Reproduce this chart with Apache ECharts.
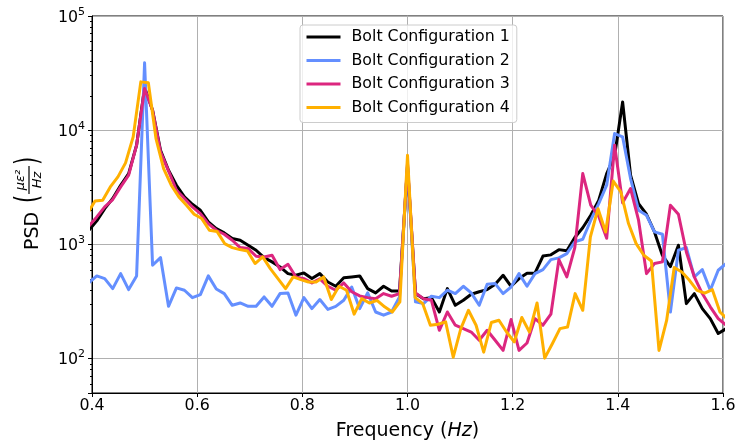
<!DOCTYPE html>
<html><head><meta charset="utf-8">
<script src="https://cdn.jsdelivr.net/npm/echarts@6/dist/echarts.min.js"></script>
<style>html,body{margin:0;padding:0;background:#fff}#c{width:740px;height:446px}</style>
</head><body><div id="c"></div>
<script>
// Frequency grid for configurations 1-3 (Hz)
const freqA = [0.3939,0.4091,0.4242,0.4394,0.4545,0.4697,0.4848,0.5,0.5152,0.5303,0.5455,0.5606,0.5758,0.5909,0.6061,0.6212,0.6364,
0.6515,0.6667,0.6818,0.6970,0.7121,0.7273,0.7424,0.7576,0.7727,0.7879,0.8030,0.8182,0.8333,0.8485,0.8636,0.8788,
0.8939,0.9091,0.9242,0.9394,0.9545,0.9697,0.9848,1.0,1.0152,1.0303,1.0455,1.0606,1.0758,1.0909,1.1061,1.1212,
1.1364,1.1515,1.1667,1.1818,1.1970,1.2121,1.2273,1.2424,1.2576,1.2727,1.2879,1.3030,1.3182,1.3333,1.3485,1.3636,
1.3788,1.3939,1.4091,1.4242,1.4394,1.4545,1.4697,1.4848,1.5,1.5152,1.5303,1.5455,1.5606,1.5758,1.5909,1.6061];
// Frequency grid for configuration 4 (Hz)
const freqB = [0.3913,0.4058,0.4203,0.4348,0.4493,0.4638,0.4783,0.4928,0.5072,0.5217,0.5362,0.5507,0.5652,0.5797,0.5942,
0.6087,0.6232,0.6377,0.6522,0.6667,0.6812,0.6957,0.7101,0.7246,0.7391,0.7536,0.7681,0.7826,0.7971,0.8116,0.8261,
0.8406,0.8551,0.8696,0.8841,0.8986,0.9130,0.9275,0.9420,0.9565,0.9710,0.9855,1.0,1.0145,1.0290,1.0435,1.0580,
1.0725,1.0870,1.1014,1.1159,1.1304,1.1449,1.1594,1.1739,1.1884,1.2029,1.2174,1.2319,1.2464,1.2609,1.2754,1.2899,
1.3043,1.3188,1.3333,1.3478,1.3623,1.3768,1.3913,1.4058,1.4203,1.4348,1.4493,1.4638,1.4783,1.4928,1.5072,1.5217,
1.5362,1.5507,1.5652,1.5797,1.5942,1.6087];

const psd1 = [1330,1607,2060,2521,3298,4171,7390,23640,14960,6680,4462,3298,2606,2248,1991,1574,1376,
1261,1125,1088,984,889,767,703,635,555,537,563,502,555,469,430,510,
519,530,410,376,430,391,391,4800,371,335,342,256,410,293,324,366,
385,402,448,537,430,502,560,560,790,810,900,880,1150,1400,1800,2430,4170,6000,17660,4036,2278,1837,1287,800,640,984,303,371,274,224,166,183];
const psd2 = [460,530,502,410,555,402,530,38900,657,767,287,416,397,342,364,530,407,
371,293,307,287,287,347,287,371,376,240,342,274,329,270,287,324,
424,274,376,256,240,256,347,5000,314,303,352,342,397,371,430,376,
293,448,454,371,424,555,430,555,602,736,762,831,1051,1110,1629,2278,3300,9350,8744,3772,1991,1801,1287,1227,256,889,938,519,602,397,594,680];
const psd3 = [1443,1741,2130,2470,3189,4036,7390,23170,14960,6460,4402,2982,2521,2130,1862,1522,1330,
1227,1088,938,919,788,777,804,602,670,519,502,460,499,430,397,460,
385,354,342,335,371,352,371,5100,376,335,324,177,256,196,183,171,
145,177,145,118,220,118,137,224,196,245,736,519,938,4171,2203,1766,1132,7390,2310,3084,1629,555,680,703,2203,1837,859,519,371,284,224,196];
const psd4 = [1862,2404,2437,3189,3901,5174,8744,26500,25980,8453,4616,3298,2606,2203,1837,1684,1331,1300,1017,938,901,877,
680,777,614,502,410,519,492,469,469,519,329,430,397,245,335,307,324,284,256,314,6040,342,303,196,200,210,103,183,265,
196,114,207,217,171,140,229,171,307,101,135,183,189,371,265,1163,2056,1285,3588,2877,1522,1016,803,716,118,216,627,573,485,396,375,402,256,220];

const seriesNames = ['Bolt Configuration 1','Bolt Configuration 2','Bolt Configuration 3','Bolt Configuration 4'];
const seriesColors = ['#000000','#648FFF','#DC267F','#FFB000'];
const yMinorTicks = [60,70,80,90,200,300,400,500,600,700,800,900,2000,3000,4000,5000,6000,7000,8000,9000,20000,30000,40000,50000,60000,70000,80000,90000];

const FONT = 'DejaVu Sans';
function pairs(xs, ys){ return ys.map((y,i)=>[xs[i], y]); }
const dataSets = [pairs(freqA, psd1), pairs(freqA, psd2), pairs(freqA, psd3), pairs(freqB, psd4)];

function txt(x, y, text, size, extra){
  return Object.assign({type:'text', x:x, y:y, style:Object.assign({text:text, fontSize:size, fontFamily:FONT, fill:'#000',
    textAlign:'left', align:'left', textVerticalAlign:'middle', verticalAlign:'middle'}, extra && extra.style || {})},
    extra && extra.props || {});
}

const chart = echarts.init(document.getElementById('c'), null, {renderer:'canvas'});
const option = {
  animation:false,
  backgroundColor:'#ffffff',
  textStyle:{fontFamily:FONT},
  grid:{left:92, right:17, top:16, bottom:53, show:true, borderColor:'#000', borderWidth:1, backgroundColor:'transparent'},
  xAxis:{
    type:'value', min:0.4, max:1.6, interval:0.2,
    axisLine:{show:true, onZero:false, lineStyle:{color:'#000', width:1}},
    axisTick:{show:true, inside:false, length:4, lineStyle:{color:'#000', width:1}},
    axisLabel:{color:'#000', fontSize:15.8, margin:5, fontFamily:FONT, formatter:v=>v.toFixed(1)},
    splitLine:{show:true, lineStyle:{color:'#b0b0b0', width:1}},
    name:'Frequency ({i|Hz})', nameLocation:'middle', nameGap:29,
    nameTextStyle:{fontSize:19, color:'#000', fontFamily:FONT, rich:{i:{fontStyle:'italic', fontSize:19, color:'#000', fontFamily:FONT}}}
  },
  yAxis:[{
    type:'log', logBase:10, min:50, max:100000,
    axisLine:{show:true, onZero:false, lineStyle:{color:'#000', width:1}},
    axisTick:{show:true, inside:false, length:4, lineStyle:{color:'#000', width:1}},
    axisLabel:{color:'#000', margin:7, fontFamily:FONT,
      formatter:function(v){
        const e = Math.round(Math.log10(v));
        if (Math.abs(Math.pow(10,e)-v) > 1e-6*v) return '';
        return '{b|10}{s|' + e + '}';
      },
      rich:{b:{fontSize:15.8, color:'#000', fontFamily:FONT, verticalAlign:'bottom'},
            s:{fontSize:11, color:'#000', fontFamily:FONT, verticalAlign:'bottom', padding:[0,0,8,0]}}
    },
    splitLine:{show:true, lineStyle:{color:'#b0b0b0', width:1}}
  },{
    type:'log', logBase:10, min:50, max:100000, position:'left',
    axisLine:{show:false},
    axisTick:{show:true, inside:false, length:2, customValues:yMinorTicks, lineStyle:{color:'#000', width:1}},
    axisLabel:{show:false},
    splitLine:{show:false}
  }],
  legend:{
    orient:'vertical', left:300, top:25, itemWidth:34, itemHeight:14, itemGap:7.5,
    padding:[4,7,7,5], backgroundColor:'rgba(255,255,255,0.8)', borderColor:'#cccccc', borderWidth:1, borderRadius:3,
    lineStyle:{width:3},
    itemStyle:{opacity:0, borderWidth:0},
    textStyle:{fontSize:15.8, color:'#000', fontFamily:FONT, padding:[0,0,0,6]},
    data:seriesNames
  },
  series:seriesNames.map((n,i)=>({
    name:n, type:'line', data:dataSets[i], yAxisIndex:0,
    symbol:'none', showSymbol:false, clip:true,
    lineStyle:{color:seriesColors[i], width:3, join:'round'},
    itemStyle:{color:seriesColors[i]},
    emphasis:{disabled:true}
  })),
  graphic:[{
    type:'group', x:33.5, y:204, rotation:Math.PI/2,
    children:[
      txt(-46, 0, 'PSD', 19),
      txt(1, -4.5, '(', 21, {props:{scaleY:1.55}}),
      txt(24, -13, 'με²', 13, {style:{fontStyle:'italic', textAlign:'center', align:'center'}}),
      {type:'line', shape:{x1:10, y1:-4.5, x2:38, y2:-4.5}, style:{stroke:'#000', lineWidth:1.2}},
      txt(24, 4, 'Hz', 13, {style:{fontStyle:'italic', textAlign:'center', align:'center'}}),
      txt(39, -4.5, ')', 21, {props:{scaleY:1.55}})
    ]
  }]
};
chart.setOption(option);
</script>
</body></html>
